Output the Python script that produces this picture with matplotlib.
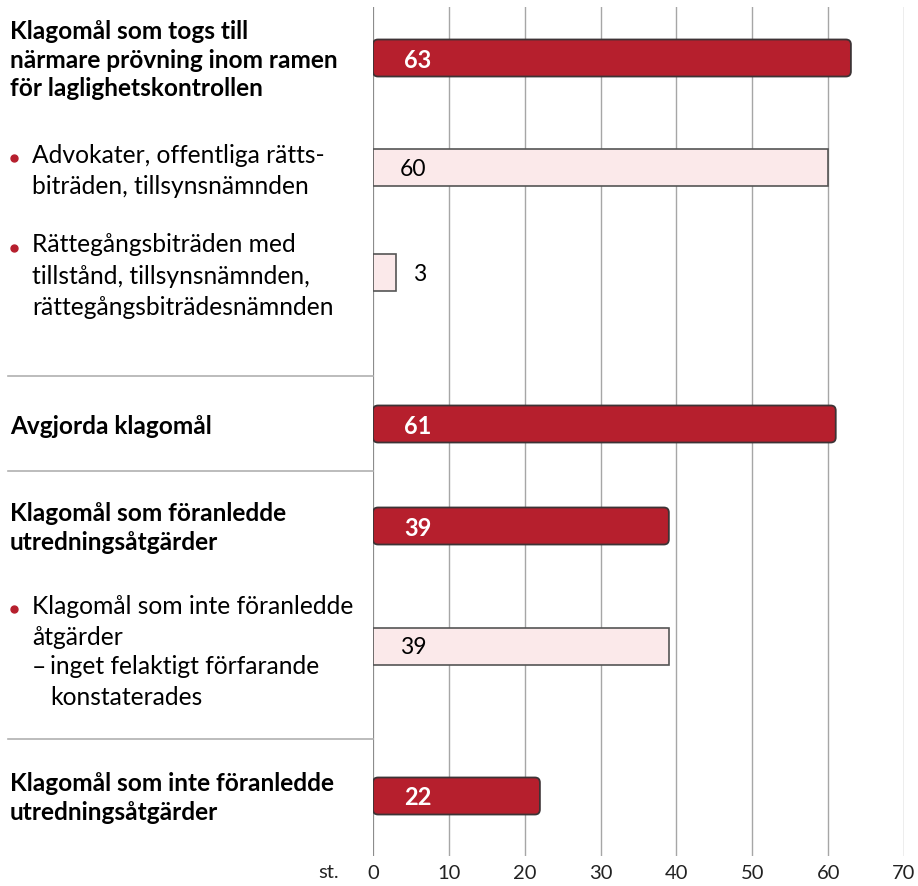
import matplotlib.pyplot as plt
from matplotlib.patches import FancyBboxPatch
from matplotlib.transforms import blended_transform_factory

plt.rcParams['font.family'] = ['Lato', 'DejaVu Sans']

# rows, top to bottom
labels = [
    "Klagomål som togs till\nnärmare prövning inom ramen\nför laglighetskontrollen",
    "Advokater, offentliga rätts-\nbiträden, tillsynsnämnden",
    "Rättegångsbiträden med\ntillstånd, tillsynsnämnden,\nrättegångsbiträdesnämnden",
    "Avgjorda klagomål",
    "Klagomål som föranledde\nutredningsåtgärder",
    "Klagomål som inte föranledde\nåtgärder",
    "Klagomål som inte föranledde\nutredningsåtgärder",
]
sub_note = "inget felaktigt förfarande\nkonstaterades"
values = [63, 60, 3, 61, 39, 39, 22]
is_total = [True, False, False, True, True, False, True]
xticks = [0, 10, 20, 30, 40, 50, 60, 70]

# layout (vertical pixel positions inside the plot area)
row_y = [59, 168, 273, 425, 527, 647, 797]
separators = [377, 472, 740]

dark = '#b61f2d'
light = '#fbe9ea'

W, H = 918, 887
fig = plt.figure(figsize=(W / 100, H / 100), dpi=100)
ax = fig.add_axes([373 / W, 30 / H, (904 - 373) / W, (857 - 8) / H])
ax.set_xlim(0, 70)
ax.set_ylim(857, 8)

for x in xticks:
    ax.axvline(x, color='#8c8c8c' if x == 0 else '#a6a6a6', lw=1.6 if x == 0 else 1.0, zorder=0)

bars = ax.barh(row_y, values, height=37)
px_per_unit = (904 - 373) / 70
for rect, total in zip(bars.patches, is_total):
    if total:
        x0, y0, w, h = rect.get_x(), rect.get_y(), rect.get_width(), rect.get_height()
        rect.remove()
        box = FancyBboxPatch((x0, y0), w, h,
                             boxstyle="round,pad=0,rounding_size=%f" % (5 / px_per_unit),
                             mutation_aspect=px_per_unit,
                             facecolor=dark, edgecolor='#3d3335', lw=1.3, zorder=2)
        ax.add_patch(box)
    else:
        rect.set_facecolor(light)
        rect.set_edgecolor('#555555')
        rect.set_linewidth(1.2)
        rect.set_zorder(2)

for y, v, total in zip(row_y, values, is_total):
    if total:
        ax.text(5.9, y + 1, str(v), ha='center', va='center', color='white',
                fontsize=17, fontweight='bold', zorder=3)
    else:
        ax.text(5.3 if v > 5 else 6.2, y + 1, str(v), ha='center', va='center',
                color='black', fontsize=16.5, zorder=3)

ax.set_xticks(xticks)
ax.set_xticklabels([str(t) for t in xticks], fontsize=14.5, color='#222222')
ax.tick_params(axis='x', length=0, pad=6)
ax.set_yticks([])
for s in ax.spines.values():
    s.set_visible(False)
ax.text(-5.9, 873, "st.", ha='center', va='center', fontsize=14.5, color='#222222',
        clip_on=False)

# left-hand labels
tr = blended_transform_factory(fig.transFigure, ax.transData)
fs_b, fs_r = 17.6, 17.7
for i, (lab, y, total) in enumerate(zip(labels, row_y, is_total)):
    if total:
        ax.text(10 / W, y + 1, lab, transform=tr, ha='left', va='center',
                fontsize=fs_b, fontweight='bold', linespacing=1.3)
    elif i == 5:
        ax.text(32 / W, y - 25, lab, transform=tr, ha='left', va='center',
                fontsize=fs_r, linespacing=1.43)
        ax.plot([14 / W], [y - 37], 'o', color=dark, ms=5, transform=tr, clip_on=False)
        ax.text(32 / W, y + 21, "–", transform=tr, ha='left', va='center', fontsize=fs_r)
        ax.text(50 / W, y + 35, sub_note, transform=tr, ha='left', va='center',
                fontsize=fs_r, linespacing=1.43)
    else:
        n = lab.count('\n') + 1
        ax.text(32 / W, y + 3, lab, transform=tr, ha='left', va='center',
                fontsize=fs_r, linespacing=1.43)
        ax.plot([14 / W], [y + 3 - (n - 1) * 15 + 3], 'o', color=dark, ms=5,
                transform=tr, clip_on=False)

for y in separators:
    ax.plot([8 / W, 373 / W], [y, y], color='#b0b0b0', lw=1.2, transform=tr, clip_on=False)

fig.savefig('out.png', dpi=100)
